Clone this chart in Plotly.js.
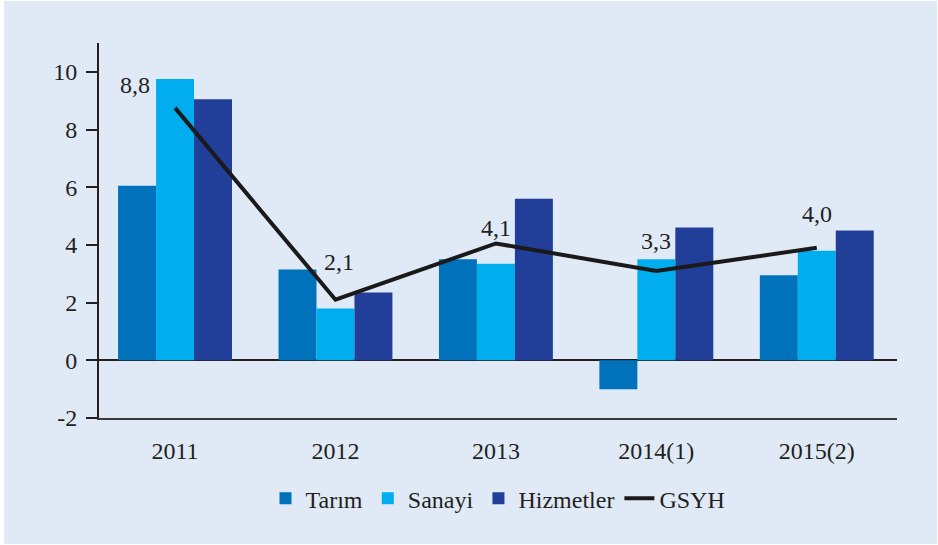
<!DOCTYPE html>
<html>
<head>
<meta charset="utf-8">
<script src="https://cdn.plot.ly/plotly-3.0.1.min.js"></script>
<style>
  html, body { margin: 0; padding: 0; background: #ffffff; }
  #chart { position: absolute; left: 4px; top: 1px; width: 933px; height: 543px; }
</style>
</head>
<body>
<div id="chart"></div>
<script>
const categories = ["2011", "2012", "2013", "2014(1)", "2015(2)"];
const tarim = [6.05, 3.15, 3.5, -1.0, 2.95];
const sanayi = [9.75, 1.8, 3.35, 3.5, 3.8];
const hizmetler = [9.05, 2.35, 5.6, 4.6, 4.5];
const gsyh = [8.75, 2.1, 4.05, 3.1, 3.9];
const gsyhLabels = ["8,8", "2,1", "4,1", "3,3", "4,0"];
const seriesNames = ["Tarım", "Sanayi", "Hizmetler", "GSYH"];
const yTicks = [-2, 0, 2, 4, 6, 8, 10];

const FONT = "'Liberation Serif', 'Times New Roman', serif";
const TXT = "#231f20";
const FS = 24;

const traces = [
  { type: "bar", name: seriesNames[0], x: categories, y: tarim, marker: { color: "#0072bb" } },
  { type: "bar", name: seriesNames[1], x: categories, y: sanayi, marker: { color: "#00aeef" } },
  { type: "bar", name: seriesNames[2], x: categories, y: hizmetler, marker: { color: "#213f99" } },
  { type: "scatter", mode: "lines", name: seriesNames[3], x: categories, y: gsyh,
    line: { color: "#1a1a1a", width: 4 } }
];

// label offsets (pixels) relative to each GSYH point
const labelShiftX = [-40, 4, 0, 0, 0];
const labelShiftY = [23, 38, 15, 30, 34];
const annotations = categories.map((c, i) => ({
  x: i, y: gsyh[i], xref: "x", yref: "y",
  text: gsyhLabels[i], showarrow: false,
  xshift: labelShiftX[i], yshift: labelShiftY[i],
  font: { family: FONT, size: FS, color: TXT }
}));

const layout = {
  width: 933, height: 543,
  paper_bgcolor: "#e0eaf6", plot_bgcolor: "#e0eaf6",
  margin: { l: 95, r: 40, t: 42, b: 126 },
  barmode: "group", bargap: 0.29, bargroupgap: 0,
  font: { family: FONT, size: FS, color: TXT },
  showlegend: true,
  legend: {
    orientation: "h", x: 0.5, xanchor: "center", y: -0.155, yanchor: "top",
    font: { family: FONT, size: FS, color: TXT },
    bgcolor: "rgba(0,0,0,0)", itemwidth: 30, traceorder: "normal"
  },
  xaxis: {
    type: "category", range: [-0.474, 4.5],
    showline: true, linecolor: "#3a3a3a", linewidth: 2, mirror: false,
    showgrid: false, zeroline: false, ticks: "", ticklabelstandoff: 10,
    tickfont: { family: FONT, size: FS, color: TXT }
  },
  yaxis: {
    range: [-2, 11], tickvals: yTicks, ticktext: yTicks.map(String),
    showline: true, linecolor: "#231f20", linewidth: 2,
    ticks: "outside", ticklen: 11, tickwidth: 2, tickcolor: "#231f20",
    showgrid: false, zeroline: true, zerolinecolor: "#231f20", zerolinewidth: 2,
    tickfont: { family: FONT, size: FS, color: TXT }, ticklabelstandoff: 4
  },
  annotations: annotations
};

Plotly.newPlot("chart", traces, layout, { displayModeBar: false, staticPlot: true });
</script>
</body>
</html>
